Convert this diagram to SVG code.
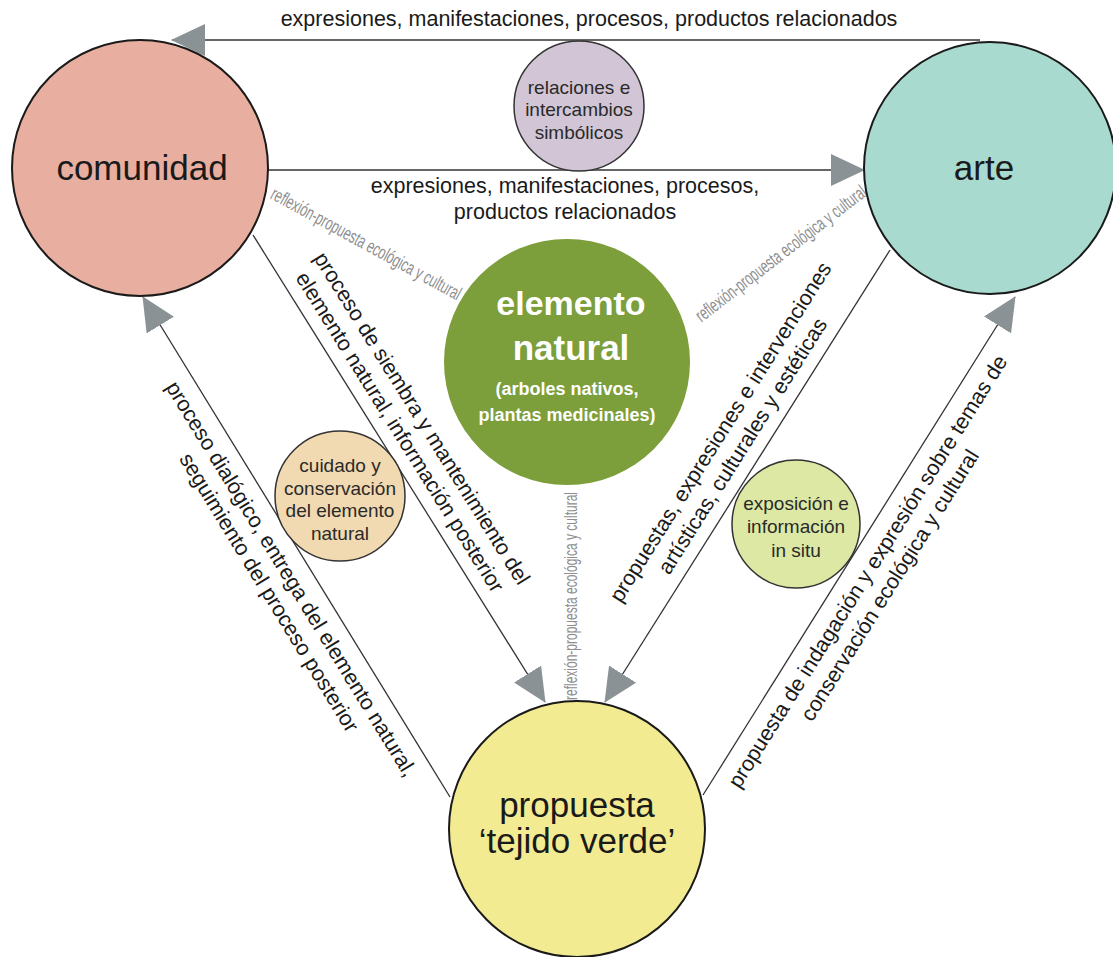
<svg xmlns="http://www.w3.org/2000/svg" width="1113" height="957" viewBox="0 0 1113 957">
<defs>
<style>
.big{font-family:"Liberation Sans",Arial,sans-serif;font-size:35px;fill:#1a1a1a;text-anchor:middle}
.lbl{font-family:"Liberation Sans",Arial,sans-serif;font-size:21.5px;fill:#1a1a1a;text-anchor:middle}
.rot{font-family:"Liberation Sans",Arial,sans-serif;font-size:21.5px;fill:#1a1a1a;text-anchor:middle}
.sm{font-family:"Liberation Sans",Arial,sans-serif;font-size:19px;fill:#2a2a2a;text-anchor:middle}
.gray{font-family:"Liberation Sans Narrow","Liberation Sans",Arial,sans-serif;font-size:19px;fill:#8e8e8e;text-anchor:middle}
.wt{font-family:"Liberation Sans",Arial,sans-serif;font-weight:bold;fill:#ffffff;text-anchor:middle}
.ln{stroke:#333;stroke-width:1.3;fill:none}
.hl{stroke:#666;stroke-width:2.2;fill:none}
.node{stroke:#1a1a1a;stroke-width:2}
.snode{stroke:#333;stroke-width:1.5}
</style>
<marker id="ah" markerUnits="userSpaceOnUse" markerWidth="34" markerHeight="32" refX="33" refY="16" orient="auto" viewBox="0 0 34 32">
<path d="M0,0 L34,16 L0,32 z" fill="#8b9296"/>
</marker>
</defs>
<rect width="1113" height="957" fill="#ffffff"/>

<g id="connectors">
<line class="hl" x1="980" y1="40" x2="172" y2="40" marker-end="url(#ah)"/>
<line class="hl" x1="268" y1="170" x2="864" y2="170" marker-end="url(#ah)"/>
<line class="ln" x1="450" y1="797" x2="143" y2="297" marker-end="url(#ah)"/>
<line class="ln" x1="253" y1="235" x2="545" y2="702" marker-end="url(#ah)"/>
<line class="ln" x1="890" y1="250" x2="605" y2="702" marker-end="url(#ah)"/>
<line class="ln" x1="703" y1="795" x2="1015" y2="297" marker-end="url(#ah)"/>
<text class="lbl" x="589" y="26">expresiones, manifestaciones, procesos, productos relacionados</text>
<text class="lbl" x="565" y="193">expresiones, manifestaciones, procesos,</text>
<text class="lbl" x="565" y="219">productos relacionados</text>
<g transform="translate(309,568) rotate(58.5)">
<text class="rot" x="0" y="28">proceso dialógico, entrega del elemento natural,</text>
<text class="rot" x="0" y="54">seguimiento del proceso posterior</text>
</g>
<g transform="translate(382.8,442.8) rotate(58)">
<text class="rot" x="0" y="-39">proceso de siembra y mantenimiento del</text>
<text class="rot" x="0" y="-13">elemento natural, información posterior</text>
</g>
<g transform="translate(759.6,456.7) rotate(-57.8)">
<text class="rot" x="0" y="-39">propuestas, expresiones e intervenciones</text>
<text class="rot" x="0" y="-13">artísticas, culturales y estéticas</text>
</g>
<g transform="translate(850.1,560.4) rotate(-57.9)">
<text class="rot" x="0" y="28">propuesta de indagación y expresión sobre temas de</text>
<text class="rot" x="0" y="54">conservación ecológica y cultural</text>
</g>
<text class="gray" transform="translate(366,244) rotate(28.7)" x="0" y="6" textLength="214" lengthAdjust="spacingAndGlyphs">reflexión-propuesta ecológica y cultural</text>
<text class="gray" transform="translate(781,254) rotate(-37.6)" x="0" y="6" textLength="210" lengthAdjust="spacingAndGlyphs">reflexión-propuesta ecológica y cultural</text>
<text class="gray" transform="translate(571,596) rotate(-90)" x="0" y="6" textLength="208" lengthAdjust="spacingAndGlyphs">reflexión-propuesta ecológica y cultural</text>
</g>

<g id="comunidad">
<circle class="node" cx="140" cy="168" r="128" fill="#E8AE9F"/>
<text class="big" x="142" y="180">comunidad</text>
</g>
<g id="arte">
<circle class="node" cx="990" cy="168" r="126" fill="#A8DAD0"/>
<text class="big" x="984" y="180">arte</text>
</g>
<g id="propuesta">
<circle class="node" cx="577" cy="829" r="128" fill="#F3EB92"/>
<text class="big" x="577" y="817">propuesta</text>
<text class="big" x="577" y="853">‘tejido verde’</text>
</g>
<g id="elemento">
<circle cx="567" cy="362" r="123" fill="#7C9E3B"/>
<text class="wt" x="571" y="315" font-size="34">elemento</text>
<text class="wt" x="571" y="360" font-size="35">natural</text>
<text class="wt" x="567" y="395" font-size="18">(arboles nativos,</text>
<text class="wt" x="567" y="421" font-size="18">plantas medicinales)</text>
</g>
<g id="relaciones">
<circle class="snode" cx="579" cy="106" r="65" fill="#D2C5D5"/>
<text class="sm" x="579" y="94">relaciones e</text>
<text class="sm" x="579" y="116">intercambios</text>
<text class="sm" x="579" y="139">simbólicos</text>
</g>
<g id="cuidado">
<circle class="snode" cx="340" cy="496" r="65" fill="#F1D9B1"/>
<text class="sm" x="340" y="472">cuidado y</text>
<text class="sm" x="340" y="495">conservación</text>
<text class="sm" x="340" y="517">del elemento</text>
<text class="sm" x="340" y="540">natural</text>
</g>
<g id="exposicion">
<circle class="snode" cx="796" cy="524" r="64" fill="#DCE8A4"/>
<text class="sm" x="796" y="510">exposición e</text>
<text class="sm" x="796" y="533">información</text>
<text class="sm" x="796" y="557">in situ</text>
</g>
</svg>
